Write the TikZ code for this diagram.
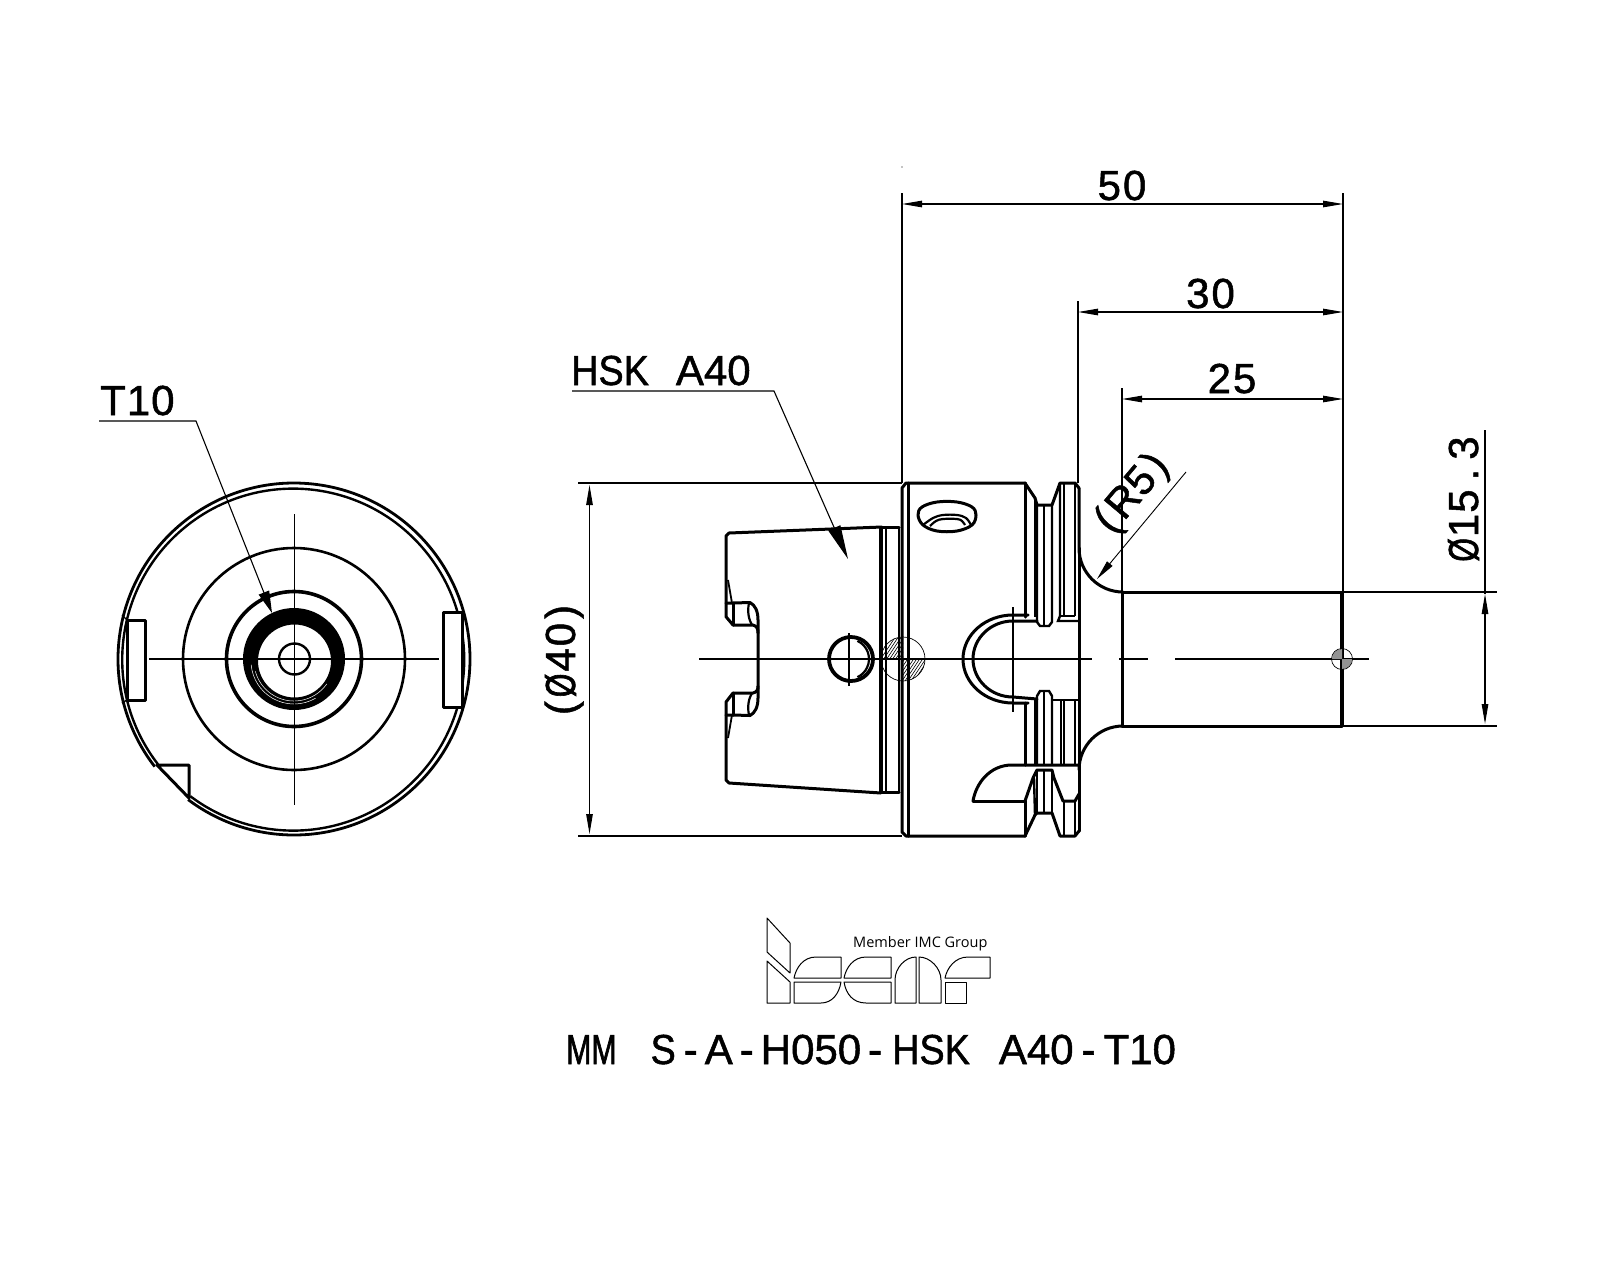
\documentclass[tikz,border=0pt]{standalone}
\usepackage{fontspec}
\setmainfont[FakeBold=1.2]{Liberation Sans}
\newfontfamily\nf[FakeStretch=0.72,FakeBold=1.5]{Liberation Sans}
\newfontfamily\mf[FakeStretch=0.9,FakeBold=1.2]{Liberation Sans}
\newfontfamily\lf{Open Sans}
\usetikzlibrary{arrows.meta}
\tikzset{
  main/.style={line width=3pt,line join=round,line cap=round},
  thin2/.style={line width=1.1pt},
  logo/.style={line width=1pt,line join=round},
  lbl/.style={inner sep=0pt,font=\fontsize{42}{42}\selectfont,anchor=base},
  dimhead/.style={{Stealth[length=20pt,width=6.5pt,inset=0pt]}-{Stealth[length=20pt,width=6.5pt,inset=0pt]}},
  leadhead/.style={-{Stealth[length=34pt,width=13pt,inset=0pt]}},
  leadsmall/.style={-{Stealth[length=22pt,width=11pt,inset=0pt]}},
  leadr/.style={-{Stealth[length=20pt,width=7pt,inset=0pt]}},
}
\begin{document}
\begin{tikzpicture}[x=1pt,y=1pt,yscale=-1]
\useasboundingbox (0,0) rectangle (1600,1280);
\fill[white] (0,0) rectangle (1600,1280);

% ---------- left view
\coordinate (lc) at (294,659);
\draw[line width=2.8pt] (lc) ++(142.3:176) arc[start angle=142.3,end angle=487,radius=176];
\draw[line width=2.4pt] (lc) ++(142.3:172) arc[start angle=142.3,end angle=487,radius=171];
\draw[main] (157,765) -- (189,765) -- (189,798) -- cycle;
\draw[line width=2.6pt] (lc) circle[radius=111];
\draw[line width=3.6pt] (lc) circle[radius=67.5];
\fill[black,even odd rule] (lc) circle[radius=51] (294.5,661) circle[radius=36.5];
\draw[white,line width=0.5pt] (294,661) ++(35:40) arc[start angle=35,end angle=165,radius=40];
\draw[white,line width=0.5pt] (294,661) ++(60:43) arc[start angle=60,end angle=175,radius=43];
\draw[line width=2.4pt] (294.5,659) circle[radius=15.5];
\draw[thin2] (149,659) -- (439,659);
\draw[thin2] (294.5,514) -- (294.5,805);
\draw[main,fill=white] (127,620) rectangle (145,700);
\draw[main,fill=white] (443,612) rectangle (462,707);
\draw[line width=1.4pt] (122,615) -- (127,620) (122,703) -- (127,700);

\node[lbl,anchor=base west] (t10) at (100,415) {T\kern1pt 1\kern1pt 0};
\coordinate (t10a) at (99,421);
\coordinate (t10b) at (196,421);
\coordinate (t10c) at (272,613);
\draw[thin2,leadsmall] (t10a) -- (t10b) -- (t10c);

% ---------- right view: taper
\draw[main] (882,527) -- (729,533) -- (726,536) -- (726,616.7) -- (733,625) -- (753,625)
  .. controls (757,626) and (758,629) .. (758,633) -- (758,686)
  .. controls (758,690) and (757,692) .. (753,693) -- (733,693) -- (726,702) -- (726,780)
  -- (729,783) -- (881,793);
\draw[main] (726,603) -- (733,603) -- (750,602.5) .. controls (755,605) and (758,611) .. (758,620) -- (758,633);
\draw[main] (733,603) -- (733,625);
\draw[line width=2.2pt] (749,603) .. controls (747,612) and (749,620) .. (752,625);
\draw[line width=1.8pt] (728,580) -- (732,603);
\draw[main] (726,715) -- (733,715) -- (750,715.5) .. controls (755,713) and (758,707) .. (758,698) -- (758,686);
\draw[main] (733,693) -- (733,715);
\draw[line width=2.2pt] (749,715) .. controls (747,706) and (749,698) .. (752,693);
\draw[line width=1.8pt] (728,738) -- (732,715);
% neck
\draw[line width=3.4pt] (881,527) -- (881,793);
\draw[line width=2.6pt] (886,528) -- (886,791);
\draw[line width=2.6pt] (899,527) -- (899,792);
\draw[main] (881,527.5) -- (899,527.5) (881,792) -- (899,792);

% flange
\draw[main] (1025,483) -- (906,483) -- (902,488) -- (902,832) -- (906,836) -- (1025,836);
\draw[main] (908,483) -- (908,836);
\draw[main] (1025,483) -- (1025,617);
\draw[main] (1025,703) -- (1025,765);
\draw[main] (1025,801) -- (1025,836);
% top hole
\draw[main] plot[smooth cycle,tension=0.6] coordinates {(918,515) (922,507) (937,502) (957,502) (972,507) (976,515) (972,525) (957,531) (937,531) (923,525)};
\draw[line width=2.2pt] plot[smooth,tension=0.6] coordinates {(923,525) (933,518) (943,515) (957,515) (966,518) (971,525)};
\draw[line width=2.2pt] plot[smooth,tension=0.6] coordinates {(930,526) (936,521) (943,519) (957,519) (962,521) (965,525)};
% small hole
\draw[line width=3.8pt] (851,659) circle[radius=22];
\draw[line width=2.2pt] (849,659) ++(-65:20) arc[start angle=-65,end angle=65,radius=20];
\draw[thin2] (849,633) -- (849,686);
% hatched circle
\begin{scope}
 \clip (903,659) circle[radius=22];
 \clip (881,637) rectangle (903,659) (903,659) rectangle (925,681);
 \foreach \k in {0,3,...,90}{\draw[line width=0.6pt] (860+\k,690) -- (900+\k,630);}
\end{scope}
\draw[line width=0.7pt] (903,659) circle[radius=22];
% centre lines
\draw[thin2] (699,659) -- (1092,659);
\draw[thin2] (1119,659) -- (1148,659);
\draw[thin2] (1175,659) -- (1369,659);
\draw[thin2] (1013,607) -- (1013,712);
% U cut-out
\draw[main] (1028,615) -- (1013,615) arc[start angle=270,end angle=90,x radius=50,y radius=44] -- (1028,703);
\draw[main] (1037,621) -- (1013,621) arc[start angle=270,end angle=90,x radius=40,y radius=38] -- (1037,699);
% upper groove
\draw[main] (1025,483) -- (1035,498) -- (1037,505) -- (1052,505) -- (1060,483) -- (1075,483) -- (1079,488);
\draw[main] (1079,488) -- (1079,548) arc[start angle=180,end angle=90,radius=44];
\draw[main] (1079,548) -- (1079,831);
\draw[line width=2.4pt] (1035,498) -- (1035,617);
\draw[line width=2.4pt] (1037,505) -- (1037,622) -- (1040,626) -- (1049,626) -- (1052,622) -- (1052,505);
\draw[line width=2.4pt] (1044,505) -- (1044,626);
\draw[line width=2.4pt] (1060,483) -- (1060,616) -- (1058,621) -- (1079,621);
\draw[line width=2.4pt] (1064,483) -- (1064,616);
\draw[line width=2.4pt] (1075,483) -- (1075,616) (1060,616) -- (1075,616);
% lower groove, first part
\draw[line width=2.4pt] (1037,765) -- (1037,696) -- (1040,691) -- (1049,691) -- (1052,696) -- (1052,765);
\draw[line width=2.4pt] (1044,691) -- (1044,765);
\draw[line width=2.4pt] (1035,700) -- (1035,765);
\draw[line width=2.4pt] (1052,700) -- (1079,700);
\draw[line width=2.4pt] (1061,700) -- (1061,765);
\draw[line width=2.4pt] (1064,700) -- (1064,765);
\draw[line width=2.4pt] (1075,700) -- (1075,765);
\draw[main] (973,801) .. controls (976,783) and (990,765) .. (1012,765) -- (1079,765);
\draw[main] (973,801) -- (1025,801);
% lower groove, second part
\draw[main] (1025,801) -- (1033,778) -- (1037,770) -- (1052,770) -- (1054,778) -- (1063,801) -- (1075,801) -- (1079,794);
\draw[main] (1025,836) -- (1035,815) -- (1037,813) -- (1052,813) -- (1060,836) -- (1075,836) -- (1079,831);
\draw[line width=2.4pt] (1034,778) -- (1035,815);
\draw[line width=2.4pt] (1037,770) -- (1037,813) (1044,770) -- (1044,813) (1052,770) -- (1052,813);
\draw[line width=2.4pt] (1064,801) -- (1064,836) (1075,801) -- (1075,836);

% shank
\draw[main] (1079,770) arc[start angle=180,end angle=270,radius=44];
\draw[main] (1122,592) -- (1342,592) (1122,726) -- (1342,726) (1122,592) -- (1122,726);
\draw[line width=3.6pt] (1342,592) -- (1342,726);
\fill[gray!85] (1342,659) -- (1332,659) arc[start angle=180,end angle=270,radius=10] -- cycle;
\fill[gray!85] (1342,659) -- (1352,659) arc[start angle=0,end angle=90,radius=10] -- cycle;
\draw[line width=0.7pt] (1342,659) circle[radius=10.5];

% ---------- dimensions
\fill (902,167) circle[radius=0.7];
\draw[thin2] (902,193) -- (902,483);
\draw[thin2] (1343,193) -- (1343,592);
\draw[thin2] (1078,301) -- (1078,483);
\draw[thin2] (1122,388) -- (1122,592);
\coordinate (d50a) at (902,204); \coordinate (d50b) at (1343,204);
\coordinate (d30a) at (1078,312); \coordinate (d30b) at (1343,312);
\coordinate (d25a) at (1122,399); \coordinate (d25b) at (1343,399);
\draw[thin2,dimhead] (d50a) -- (d50b);
\draw[thin2,dimhead] (d30a) -- (d30b);
\draw[thin2,dimhead] (d25a) -- (d25b);
\node[lbl] (n50) at (1122,200) {5\kern2pt 0};
\node[lbl] (n30) at (1210.5,308) {3\kern2pt 0};
\node[lbl] (n25) at (1232,393) {2\kern2pt 5};

\draw[thin2] (578,483) -- (902,483);
\draw[thin2] (578,836) -- (902,836);
\coordinate (d40a) at (589.5,485); \coordinate (d40b) at (589.5,834);
\draw[thin2,dimhead] (d40a) -- (d40b);
\node[lbl,rotate=90] (n40) at (575,660) {(\kern4pt{\nf Ø}\kern2pt 4\kern2pt 0\kern4pt)};

\draw[thin2] (1342,592) -- (1497,592);
\draw[thin2] (1342,726) -- (1497,726);
\coordinate (d15a) at (1485,594); \coordinate (d15b) at (1485,724);
\draw[thin2,dimhead] (d15a) -- (d15b);
\draw[thin2] (1485,430) -- (1485,594);
\node[lbl,rotate=90] (n15) at (1478,499) {{\nf Ø}\kern1pt 1\kern1pt 5\kern9pt .\kern9pt 3};

\coordinate (r5a) at (1186,472); \coordinate (r5b) at (1097,579);
\draw[line width=0.9pt,leadr] (r5a) -- (r5b);
\node[lbl,anchor=center,rotate=50] (r5) at (1133,494) {(\kern4pt R5\kern4pt)};

\node[lbl,anchor=base west] (hsk) at (571,385) {{\mf HSK}\kern27pt A40};
\coordinate (ha) at (572,391); \coordinate (hb) at (774,391); \coordinate (hc) at (848,559);
\draw[thin2,leadhead] (ha) -- (hb) -- (hc);

% ---------- logo
\draw[logo] (767,918) -- (790,943) -- (790,973) -- (767,952) -- cycle;
\draw[logo] (767,961) -- (790,982) -- (790,1003) -- (767,1003) -- cycle;
\draw[logo] (794,978) .. controls (796,968) and (803,957) .. (816,957) -- (841,957) -- (841,978) -- cycle;
\draw[logo] (794,982) -- (841,982) .. controls (839,994) and (832,1003) .. (821,1003) -- (794,1003) -- cycle;
\draw[logo] (844,978) .. controls (846,968) and (853,957) .. (866,957) -- (891,957) -- (891,978) -- cycle;
\draw[logo] (844,982) -- (891,982) -- (891,1003) -- (866,1003) .. controls (853,1003) and (846,994) .. (844,982) -- cycle;
\draw[logo] (895,1003) -- (895,980) .. controls (895,968) and (905,957) .. (916,957) -- (916,1003) -- cycle;
\draw[logo] (919,957) .. controls (930,957) and (941,968) .. (941,980) -- (941,1003) -- (919,1003) -- cycle;
\draw[logo] (945,978) .. controls (947,968) and (955,957) .. (968,957) -- (990,957) -- (990,978) -- cycle;
\draw[logo] (945,982) -- (966,982) -- (966,1003) -- (945,1003) -- cycle;
\node[inner sep=0pt,anchor=base west,font=\lf\fontsize{14.5}{15}\selectfont] (member) at (853,947) {Member IMC Group};

\node[lbl,anchor=base west] (title) at (566,1064) {{\nf MM}\kern34pt{\mf S}\kern8pt-\kern7pt A\kern7pt-\kern7pt H050\kern7pt-\kern10pt{\mf HSK}\kern29pt A40\kern8pt-\kern8pt T10};
\end{tikzpicture}
\end{document}
